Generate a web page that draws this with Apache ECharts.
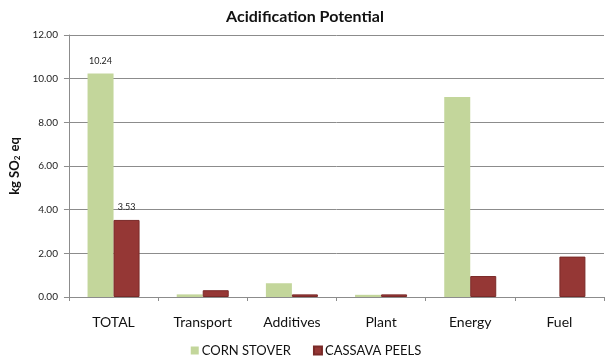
<!DOCTYPE html>
<html>
<head>
<meta charset="utf-8">
<script src="https://cdn.jsdelivr.net/npm/echarts@6/dist/echarts.min.js"></script>
<style>
  html, body { margin: 0; padding: 0; background: #fff; }
  #chart { width: 612px; height: 363px; }
</style>
</head>
<body>
<div id="chart"></div>
<script>
const categories = ['TOTAL', 'Transport', 'Additives', 'Plant', 'Energy', 'Fuel']
const cornStover = [10.24, 0.12, 0.63, 0.1, 9.16, 0]
const cassavaPeels = [3.53, 0.31, 0.12, 0.12, 0.96, 1.85]
const yTicks = { min: 0, max: 12, interval: 2 }

const font = 'Lato, "Open Sans", sans-serif'

// only the TOTAL bars carry a value label
function withLabel(values) {
  return values.map((v, i) => i === 0
    ? { value: v, label: { show: true, position: 'top', distance: 8, fontSize: 9, color: '#222', fontFamily: font, formatter: p => p.value.toFixed(2) } }
    : v)
}

const chart = echarts.init(document.getElementById('chart'))
chart.setOption({
  animation: false,
  title: {
    text: 'Acidification Potential',
    left: 300,
    textAlign: 'center',
    top: 4,
    textStyle: { fontSize: 16, fontWeight: 'bold', color: '#111', fontFamily: font }
  },
  legend: {
    left: 'center',
    top: 339,
    itemWidth: 8,
    itemHeight: 8,
    itemGap: 22,
    icon: 'rect',
    textStyle: { fontSize: 13, color: '#111', fontFamily: font, padding: [0, 0, 0, -2] }
  },
  grid: { left: 60, right: 8, top: 35, bottom: 66 },
  xAxis: {
    type: 'category',
    data: categories,
    axisLine: { lineStyle: { color: '#8c8c8c' } },
    axisTick: { show: true, length: 4, lineStyle: { color: '#8c8c8c' } },
    axisLabel: { fontSize: 14, color: '#111', margin: 18, fontFamily: font }
  },
  yAxis: {
    type: 'value',
    min: yTicks.min,
    max: yTicks.max,
    interval: yTicks.interval,
    name: 'kg SO{sub|2} eq',
    nameLocation: 'middle',
    nameGap: 40,
    nameRotate: 90,
    nameTextStyle: {
      fontSize: 13, fontWeight: 'bold', color: '#111', fontFamily: font,
      rich: { sub: { fontSize: 8, fontWeight: 'bold', verticalAlign: 'bottom', padding: [6, 1, 0, 0] } }
    },
    axisLine: { show: true, lineStyle: { color: '#8c8c8c' } },
    axisTick: { show: true, length: 5, lineStyle: { color: '#8c8c8c' } },
    axisLabel: { fontSize: 10, color: '#222', margin: 11, fontFamily: font, formatter: v => v.toFixed(2) },
    splitLine: { lineStyle: { color: '#8c8c8c' } }
  },
  series: [
    {
      name: 'CORN STOVER',
      type: 'bar',
      data: withLabel(cornStover),
      barWidth: 26,
      barGap: '0%',
      itemStyle: { color: '#c3d69b' }
    },
    {
      name: 'CASSAVA PEELS',
      type: 'bar',
      data: withLabel(cassavaPeels),
      barWidth: 26,
      barGap: '0%',
      itemStyle: { color: '#953735', borderColor: '#7a2a28', borderWidth: 1 }
    }
  ]
})
</script>
</body>
</html>
